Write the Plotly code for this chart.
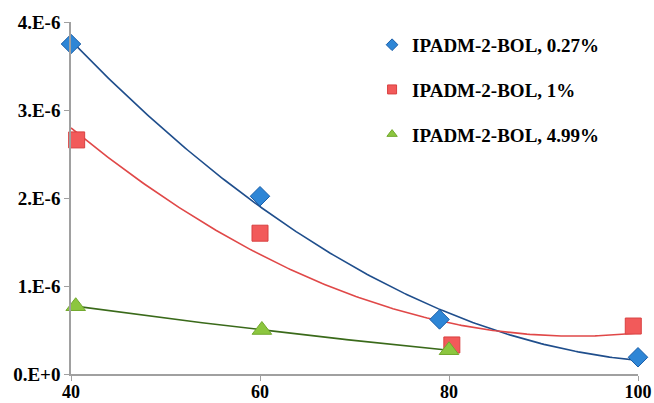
import numpy as np
import plotly.graph_objects as go

names = ["IPADM-2-BOL, 0.27%", "IPADM-2-BOL, 1%", "IPADM-2-BOL, 4.99%"]
x_blue = [40, 60, 79, 100]
y_blue = [3.75e-6, 2.02e-6, 0.62e-6, 0.19e-6]
x_red = [40.6, 60, 80.3, 99.5]
y_red = [2.66e-6, 1.60e-6, 0.33e-6, 0.545e-6]
x_green = [40.5, 60.2, 80]
y_green = [0.77e-6, 0.50e-6, 0.27e-6]
x_ticks = [40, 60, 80, 100]
y_ticks = [0, 1e-6, 2e-6, 3e-6, 4e-6]
y_ticktext = ["0.E+0", "1.E-6", "2.E-6", "3.E-6", "4.E-6"]

series = [
    (x_blue, y_blue, "diamond", 15, "#2e86d6", "#1a5ea8", "#1f4e8c", (40, 100)),
    (x_red, y_red, "square", 16, "#f25a5a", "#d84040", "#e04848", (40, 100)),
    (x_green, y_green, "triangle-up", 17, "#8cc63f", "#72a82e", "#3a6a1a", (40, 80)),
]

font_fam = "Liberation Serif"
fig = go.Figure()

for (xs, ys, sym, sz, fc, lc, tc, (x0, x1)), nm in zip(series, names):
    coef = np.polyfit(xs, ys, 2)
    xf = np.linspace(x0, x1, 200)
    fig.add_trace(go.Scatter(x=xf, y=np.polyval(coef, xf), mode="lines",
                             line=dict(color=tc, width=1.6), showlegend=False,
                             hoverinfo="skip", cliponaxis=False))

for (xs, ys, sym, sz, fc, lc, tc, _), nm in zip(series, names):
    fig.add_trace(go.Scatter(x=xs, y=ys, mode="markers", showlegend=False,
                             marker=dict(symbol=sym, size=sz, color=fc,
                                         line=dict(color=lc, width=1)),
                             cliponaxis=False))

for i, ((xs, ys, sym, sz, fc, lc, tc, _), nm) in enumerate(zip(series, names)):
    fig.add_trace(go.Scatter(x=[None], y=[None], mode="markers", name=nm,
                             legendgroup=str(i),
                             marker=dict(symbol=sym, size=9, color=fc,
                                         line=dict(color=lc, width=1))))

tick_font = dict(family=font_fam, size=19, color="black", weight="bold")
xtick_font = dict(family=font_fam, size=18, color="black", weight="bold")
fig.update_layout(
    width=654, height=403,
    margin=dict(l=71, r=16, t=22, b=29),
    paper_bgcolor="white", plot_bgcolor="white",
    font=dict(family=font_fam, size=19, color="black"),
    legend=dict(x=0.531, y=0.989, xanchor="left", yanchor="top",
                font=dict(family=font_fam, size=19, color="black", weight="bold"),
                tracegroupgap=17, itemwidth=30, bgcolor="rgba(0,0,0,0)"),
    xaxis=dict(range=[40, 100], tickvals=x_ticks, showgrid=False, zeroline=False,
               showline=True, linecolor="#a0a0a0", linewidth=1.5, automargin=False,
               ticks="outside", ticklen=5, tickcolor="#a0a0a0", tickfont=xtick_font,
               ticklabelstandoff=-4),
    yaxis=dict(range=[0, 4e-6], tickvals=y_ticks, ticktext=y_ticktext,
               showgrid=False, zeroline=False, automargin=False,
               showline=True, linecolor="#a0a0a0", linewidth=1.5,
               ticks="outside", ticklen=5, tickcolor="#a0a0a0", tickfont=tick_font),
)

fig.write_html("out.html", config={"displayModeBar": False},
               post_script="document.body.style.margin='0';document.body.style.overflow='hidden';")
